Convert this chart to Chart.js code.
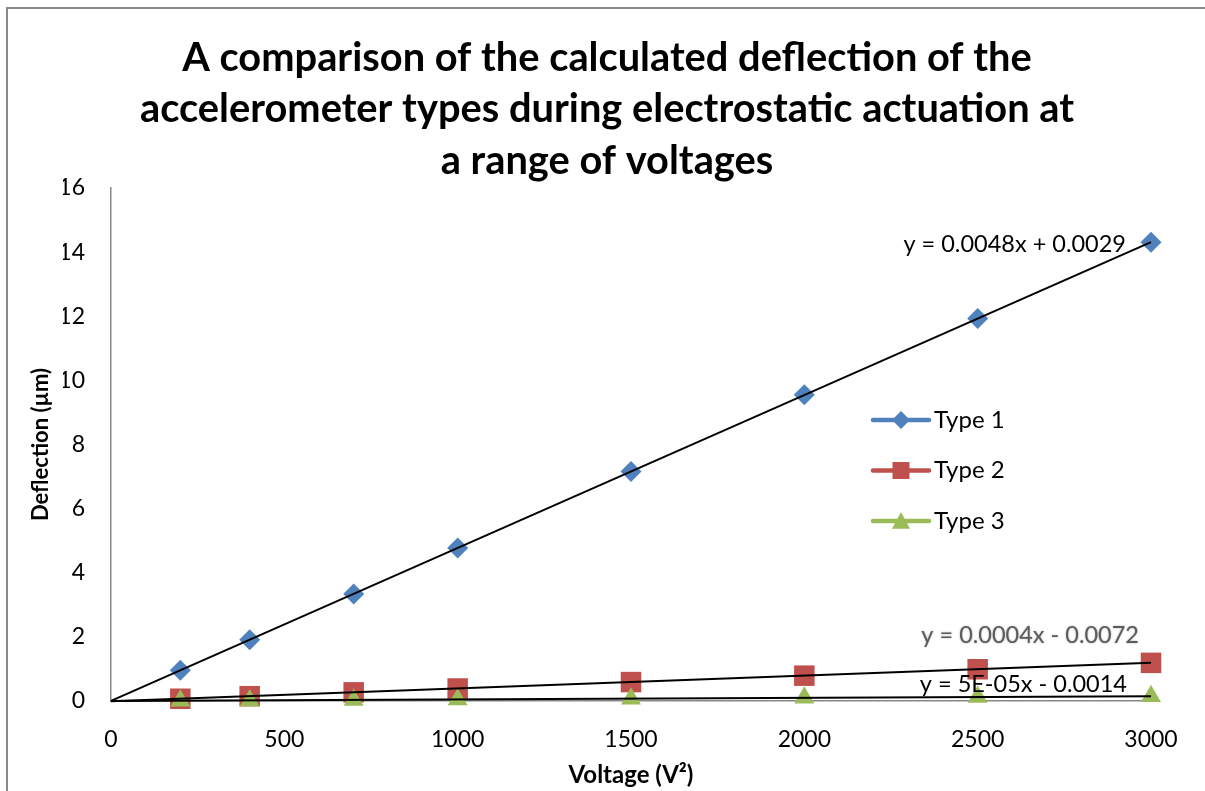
<!DOCTYPE html>
<html>
<head>
<meta charset="utf-8">
<script src="https://cdn.jsdelivr.net/npm/chart.js@4.4.1/dist/chart.umd.min.js"></script>
<style>
html, body { margin: 0; padding: 0; background: #ffffff; }
#wrap { position: relative; width: 1205px; height: 791px; overflow: hidden; }
canvas { display: block; }
</style>
</head>
<body>
<div id="wrap"><canvas id="c" width="1205" height="791"></canvas></div>
<script>
// ---------------- data ----------------
const voltages = [200, 400, 700, 1000, 1500, 2000, 2500, 3000];
const type1 = [0.96, 1.91, 3.34, 4.77, 7.16, 9.55, 11.93, 14.31];
const type2 = [0.07, 0.15, 0.27, 0.39, 0.59, 0.79, 0.99, 1.19];
const type3 = [0.009, 0.019, 0.034, 0.049, 0.074, 0.099, 0.124, 0.149];
const seriesNames = ['Type 1', 'Type 2', 'Type 3'];
const equations = ['y = 0.0048x + 0.0029', 'y = 0.0004x - 0.0072', 'y = 5E-05x - 0.0014'];
const trendRange = [0, 3000];
const titleLines = [
  'A comparison of the calculated deflection of the',
  'accelerometer types during electrostatic actuation at',
  'a range of voltages'
];
const xTitle = 'Voltage (V\u00B2)';
const yTitle = 'Deflection (\u00B5m)';

// ---------------- helpers ----------------
function linFit(xs, ys) {
  const n = xs.length;
  let sx = 0, sy = 0, sxx = 0, sxy = 0;
  for (let i = 0; i < n; i++) { sx += xs[i]; sy += ys[i]; sxx += xs[i] * xs[i]; sxy += xs[i] * ys[i]; }
  const m = (n * sxy - sx * sy) / (n * sxx - sx * sx);
  const b = (sy - m * sx) / n;
  return { m, b };
}
const allSeries = [type1, type2, type3];
const colors = ['#4F81BD', '#C0504D', '#9BBB59'];
const styles = [
  { pointStyle: 'rectRot', radius: 10.5, order: 3 },
  { pointStyle: 'rect', radius: 14.5, order: 2 },
  { pointStyle: 'triangle', radius: 11.5, order: 1 }
];

const FONT = 'Lato, "Open Sans", sans-serif';

const pointSets = allSeries.map((s, i) => ({
  label: seriesNames[i],
  data: voltages.map((v, k) => ({ x: v, y: s[k] })),
  showLine: false,
  pointStyle: styles[i].pointStyle,
  pointRadius: styles[i].radius,
  pointHoverRadius: styles[i].radius,
  pointBackgroundColor: colors[i],
  pointBorderWidth: 0,
  borderColor: colors[i],
  backgroundColor: colors[i],
  clip: false,
  order: styles[i].order
}));

const fits = allSeries.map(s => linFit(voltages, s));
const trendSets = fits.map((f, i) => ({
  label: 'trend ' + seriesNames[i],
  data: trendRange.map(x => ({ x, y: f.m * x + f.b })),
  showLine: true,
  borderColor: '#000000',
  borderWidth: 2,
  pointRadius: 0,
  fill: false,
  clip: false,
  order: 0
}));

// ---------------- custom drawing plugin ----------------
function markerPath(ctx, style, x, y, r) {
  ctx.beginPath();
  if (style === 'rectRot') {
    ctx.moveTo(x, y - r); ctx.lineTo(x + r, y); ctx.lineTo(x, y + r); ctx.lineTo(x - r, y);
  } else if (style === 'rect') {
    ctx.rect(x - r, y - r, 2 * r, 2 * r);
  } else {
    ctx.moveTo(x, y - r); ctx.lineTo(x + r, y + r * 0.85); ctx.lineTo(x - r, y + r * 0.85);
  }
  ctx.closePath();
}

const extras = {
  id: 'extras',
  beforeDraw(chart) {
    const ctx = chart.ctx;
    ctx.save();
    ctx.fillStyle = '#ffffff';
    ctx.fillRect(0, 0, chart.width, chart.height);
    ctx.restore();
  },
  afterDraw(chart) {
    const ctx = chart.ctx;
    const xs = chart.scales.x, ys = chart.scales.y;
    ctx.save();
    // outer chart border (Excel chart frame)
    ctx.strokeStyle = '#8a8a8a';
    ctx.lineWidth = 2;
    ctx.strokeRect(7, 8, 1400, 1000);

    // legend
    const lx0 = 873, lx1 = 929, lmx = 901, ly0 = 420, ldy = 50.5;
    const legR = [9, 8.5, 9];
    seriesNames.forEach((name, i) => {
      const y = ly0 + i * ldy;
      ctx.strokeStyle = colors[i];
      ctx.lineWidth = 4.5;
      ctx.lineCap = 'round';
      ctx.beginPath(); ctx.moveTo(lx0, y); ctx.lineTo(lx1, y); ctx.stroke();
      ctx.fillStyle = colors[i];
      markerPath(ctx, styles[i].pointStyle, lmx, y, legR[i]);
      ctx.fill();
      ctx.fillStyle = '#000000';
      ctx.font = '24px ' + FONT;
      ctx.textAlign = 'left';
      ctx.textBaseline = 'middle';
      ctx.fillText(name, 934, y);
    });

    // trendline equations, anchored at each trend line's right end
    const offsets = [{ dx: -25, dy: 2 }, { dx: -12, dy: -27 }, { dx: -24, dy: -12 }];
    fits.forEach((f, i) => {
      const xe = trendRange[1];
      const px = xs.getPixelForValue(xe);
      const py = ys.getPixelForValue(f.m * xe + f.b);
      ctx.font = '23.5px ' + FONT;
      ctx.textAlign = 'right';
      ctx.textBaseline = 'middle';
      if (i === 1) {
        ctx.fillStyle = '#5c5c5c';
        ctx.shadowColor = 'rgba(0,0,0,0.35)';
        ctx.shadowBlur = 2;
      } else {
        ctx.fillStyle = '#000000';
        ctx.shadowColor = 'transparent';
        ctx.shadowBlur = 0;
      }
      ctx.fillText(equations[i], px + offsets[i].dx, py + offsets[i].dy);
    });
    ctx.restore();
  }
};

const plainTick = v => String(v);

// ---------------- chart ----------------
new Chart(document.getElementById('c'), {
  type: 'scatter',
  data: { datasets: [...trendSets, ...pointSets] },
  options: {
    responsive: false,
    animation: false,
    devicePixelRatio: 1,
    layout: { padding: { left: 63, right: 54, top: 0, bottom: 0 } },
    plugins: {
      legend: { display: false },
      tooltip: { enabled: false },
      title: {
        display: true,
        text: titleLines,
        color: '#000000',
        font: { family: FONT, size: 39.8, weight: 'bold', lineHeight: 1.294 },
        padding: { top: 32.25, bottom: 1.25 }
      }
    },
    scales: {
      x: {
        type: 'linear',
        min: 0, max: 3000,
        ticks: { stepSize: 500, color: '#000000', font: { family: FONT, size: 23 }, padding: 25, maxRotation: 0, callback: plainTick },
        grid: { display: false, drawTicks: false },
        border: { display: true, color: '#878787', width: 1.5 },
        title: { display: true, text: xTitle, color: '#000000', font: { family: FONT, size: 24, weight: 'bold' }, padding: { top: 0, bottom: 1 } },
        afterFit(s) { s.height = 90; }
      },
      y: {
        type: 'linear',
        min: 0, max: 16,
        ticks: { stepSize: 2, color: '#000000', font: { family: FONT, size: 23 }, padding: 26, callback: plainTick },
        grid: { display: false, drawTicks: false },
        border: { display: true, color: '#878787', width: 1.5 },
        title: { display: true, text: yTitle, color: '#000000', font: { family: FONT, size: 22, weight: 'bold' }, padding: { top: -35.2, bottom: 0 } },
        afterFit(s) { s.width = 48; }
      }
    }
  },
  plugins: [extras]
});
</script>
</body>
</html>
